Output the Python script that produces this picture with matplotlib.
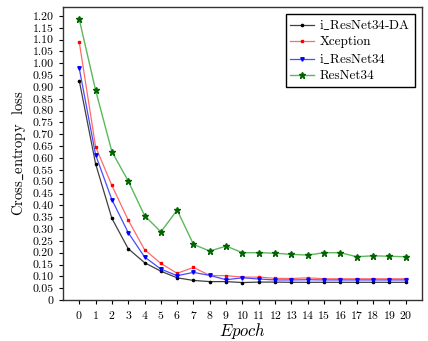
import matplotlib
matplotlib.use('Agg')
import matplotlib.pyplot as plt

plt.rcParams['font.family'] = ['cmr10', 'DejaVu Serif']
plt.rcParams['mathtext.fontset'] = 'cm'
plt.rcParams['axes.formatter.use_mathtext'] = True

epochs = list(range(21))

# i_ResNet34-DA
loss_da = [0.927, 0.576, 0.345, 0.217, 0.158, 0.122, 0.094, 0.083, 0.078, 0.078, 0.074,
           0.076, 0.076, 0.075, 0.075, 0.075, 0.075, 0.075, 0.075, 0.075, 0.075]
# Xception
loss_xc = [1.09, 0.648, 0.484, 0.338, 0.213, 0.155, 0.113, 0.138, 0.104, 0.103, 0.097,
           0.097, 0.092, 0.091, 0.094, 0.090, 0.090, 0.090, 0.090, 0.090, 0.090]
# i_ResNet34
loss_ir = [0.979, 0.614, 0.424, 0.285, 0.182, 0.131, 0.103, 0.117, 0.104, 0.086, 0.094,
           0.089, 0.085, 0.085, 0.086, 0.085, 0.085, 0.085, 0.085, 0.085, 0.085]
# ResNet34
loss_rn = [1.186, 0.887, 0.627, 0.503, 0.357, 0.288, 0.380, 0.235, 0.207, 0.228, 0.200,
           0.200, 0.198, 0.193, 0.190, 0.200, 0.200, 0.183, 0.187, 0.185, 0.183]

yticks = [round(0.05 * i, 2) for i in range(25)]
ytick_labels = ['0'] + ['%.2f' % v for v in yticks[1:]]

fig = plt.figure(figsize=(4.28, 3.41), dpi=100)
ax = fig.add_axes([0.147, 0.12, 0.839, 0.859])

ax.plot(epochs, loss_da, color='#404040', lw=0.9, marker='o', ms=1.6,
        mfc='black', mec='black', label=r'i$\_$ResNet34-DA')
ax.plot(epochs, loss_xc, color='#ff6a6a', lw=0.9, marker='s', ms=2,
        mfc='red', mec='red', label='Xception')
ax.plot(epochs, loss_ir, color='#4a4aff', lw=0.9, marker='v', ms=2.5,
        mfc='blue', mec='blue', label=r'i$\_$ResNet34')
ax.plot(epochs, loss_rn, color='#5cb85c', lw=1.0, marker='*', ms=4.5,
        mfc='darkgreen', mec='darkgreen', label='ResNet34')

ax.set_xlim(-1, 21)
ax.set_ylim(0, 1.237)
ax.set_xticks(epochs)
ax.set_yticks(yticks)
ax.set_yticklabels(ytick_labels)
ax.tick_params(labelsize=8.5, direction='out', length=3, width=0.8)
for s in ax.spines.values():
    s.set_linewidth(1.0)
    s.set_color('#333333')

ax.set_xlabel(r'$Epoch$', fontsize=12, labelpad=0)
ax.set_ylabel(r'Cross$\_$entropy  loss', fontsize=10.5, labelpad=3)

leg = ax.legend(loc='upper right', fontsize=9.5, fancybox=False, framealpha=1,
                edgecolor='black', borderpad=0.35, labelspacing=0.3,
                handlelength=1.8, handletextpad=0.4)
leg.get_frame().set_linewidth(1.0)

fig.savefig('out.png', dpi=100)
